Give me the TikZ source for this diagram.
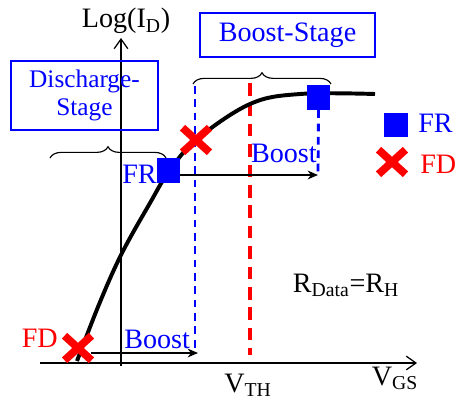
\documentclass[tikz,border=0pt]{standalone}
\usepackage{fontspec}
\setmainfont{Liberation Serif}
\usetikzlibrary{positioning,arrows.meta,shapes.misc,decorations.pathreplacing}
\definecolor{stageblue}{RGB}{0,0,255}
\definecolor{fdred}{RGB}{255,0,0}
\tikzset{
  stagebox/.style  = {draw=stageblue, line width=0.9pt, align=center, text=stageblue, inner sep=2pt},
  frsq/.style      = {fill=stageblue, minimum width=0.58cm, minimum height=0.62cm, inner sep=0pt},
  fdx/.style       = {cross out, draw=fdred, line width=5.5pt, minimum width=0.48cm, minimum height=0.42cm, inner sep=0pt},
  lbl/.style       = {inner sep=0pt, anchor=base},
  axis/.style      = {-{Straight Barb[length=2.4mm, width=3.4mm]}, line width=0.9pt},
  push/.style      = {-{Stealth[length=2.6mm, width=2.2mm]}, line width=0.8pt},
  bluedash/.style  = {draw=stageblue, line width=2pt, dash pattern=on 5.5pt off 4pt},
  reddash/.style   = {draw=fdred, line width=2.6pt, dash pattern=on 9pt off 5.5pt},
  stagebrace/.style= {decorate, decoration={brace, amplitude=8pt}, line width=0.8pt},
}

\begin{document}
\begin{tikzpicture}[x=0.025cm, y=-0.025cm, font=\fontsize{20}{24}\selectfont]
  \useasboundingbox (0,0) rectangle (457,400);
  % axes
  \coordinate (ybot) at (121,366);
  \coordinate (ytop) at (121,38);
  \coordinate (xl) at (40,363);
  \coordinate (xr) at (417,363);
  \draw[axis] (ybot) -- (ytop);
  \draw[axis] (xl) -- (xr);
  \node[lbl] (logid) at (126,28) {Log(I\textsubscript{D})};
  \node[lbl] (vgs) at (395,385) {V\textsubscript{GS}};
  \node[lbl] (rdata) at (346,292) {R\textsubscript{Data}=R\textsubscript{H}};

  % stages
  \node[stagebox, minimum width=3.675cm, minimum height=1.725cm, font=\fontsize{18}{19.8}\selectfont] (dis) at (84.5,95.5) {Discharge-\\Stage};
  \node[stagebox, minimum width=4.375cm, minimum height=1.1cm] (bst) at (287.5,35) {Boost-Stage};
  \coordinate (dbl) at (50,158);
  \coordinate (dbr) at (166,158);
  \coordinate (bbl) at (193,84);
  \coordinate (bbr) at (331,84);
  \draw[stagebrace] (dbl) -- (dbr);
  \draw[stagebrace] (bbl) -- (bbr);

  % guide lines
  \coordinate (vtt) at (250,83);
  \coordinate (vtb) at (250,355);
  \draw[reddash] (vtt) -- (vtb);
  \node[lbl] (vth) at (248,392) {V\textsubscript{TH}};
  \coordinate (blt) at (195,86);
  \coordinate (b2) at (198,353);
  \draw[bluedash] (blt) -- (195,353);

  % transfer curve
  \draw[line width=2.8pt] plot[smooth, tension=0.6] coordinates
    {(77,361) (100,302) (122,253) (150,203) (168,173) (196,140) (250,104) (300,94) (375,94)};

  % markers
  \node[frsq] (fr1) at (168.5,170.5) {};
  \node[frsq] (fr2) at (318.5,97.5) {};
  \node[fdx] (fd1) at (196,140) {};
  \node[fdx] (fd2) at (78,348) {};
  \node[lbl, text=stageblue, anchor=base east] (fr1l) at (157,183) {FR};
  \node[lbl, text=fdred, anchor=base east] (fd2l) at (58,347) {FD};

  % boosts
  \coordinate (b1) at (318,175);
  \draw[bluedash] (fr2.south) -- (b1);
  \draw[push] (fr1.east |- b1) -- (b1);
  \draw[push] (fd2.east |- b2) -- (b2);
  \node[lbl, text=stageblue, anchor=base east] (bst1) at (317,162) {Boost};
  \node[lbl, text=stageblue, anchor=base west] (bst2) at (124,348) {Boost};

  % legend
  \node[frsq] (lgfr) at (396,125) {};
  \node[fdx] (lgfd) at (392,162) {};
  \node[lbl, text=stageblue, anchor=base west] (lgfrl) at (418,132) {FR};
  \node[lbl, text=fdred, anchor=base west] (lgfdl) at (420,173) {FD};
\end{tikzpicture}
\end{document}
